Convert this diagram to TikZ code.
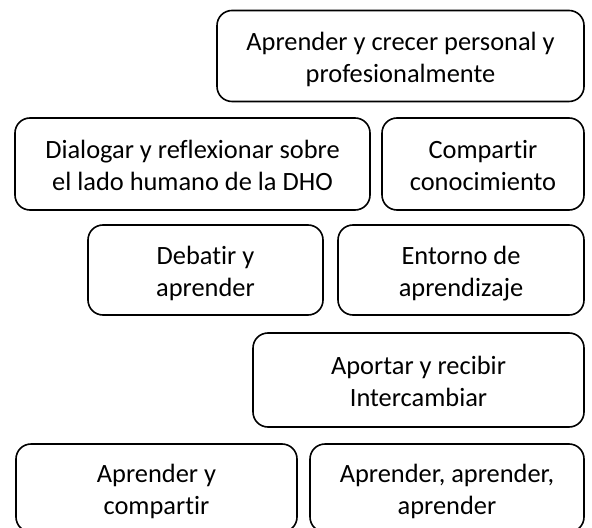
\documentclass[tikz,border=0pt]{standalone}
\usepackage{fontspec}
\setmainfont{Carlito}[Ligatures=NoCommon]
\usepackage{tikz}

\newcommand{\dos}[2]{\rule{0pt}{12.5pt}#1\\#2\rule[-2pt]{0pt}{2pt}}

\tikzset{
  caja/.style={draw, line width=0.8pt, rounded corners=7.5pt, align=center,
    inner sep=0pt, font=\fontsize{13.2}{16}\selectfont},
}

\begin{document}
\begin{tikzpicture}[x=0.5pt,y=-0.5pt]
            \useasboundingbox (0,0) rectangle (592,528);

            \node[caja, minimum width=183.5pt, minimum height=45.5pt] (crecer) at (400.5,56) {\dos{Aprender y crecer personal y}{profesionalmente}};

            \node[caja, minimum width=177.5pt, minimum height=46pt] (dialogar) at (192.5,164) {\dos{Dialogar y reflexionar sobre}{el lado humano de la DHO}};
            \node[caja, minimum width=101pt, minimum height=46pt] (compartir) at (483,164) {\dos{Compartir}{conocimiento}};

            \node[caja, minimum width=117.5pt, minimum height=45pt] (debatir) at (205.5,270) {\dos{Debatir y}{aprender}};
            \node[caja, minimum width=123pt, minimum height=45pt] (entorno) at (461,270) {\dos{Entorno de}{aprendizaje}};

            \node[caja, minimum width=165.5pt, minimum height=47pt] (aportar) at (418.5,380) {\dos{Aportar y recibir}{Intercambiar}};

            \node[caja, minimum width=140.5pt, minimum height=44pt] (aprcomp) at (156.5,488) {\dos{Aprender y}{compartir}};
            \node[caja, minimum width=137pt, minimum height=44pt] (aprtres) at (447,488) {\dos{Aprender, aprender,}{aprender}};
        \end{tikzpicture}
\end{document}
